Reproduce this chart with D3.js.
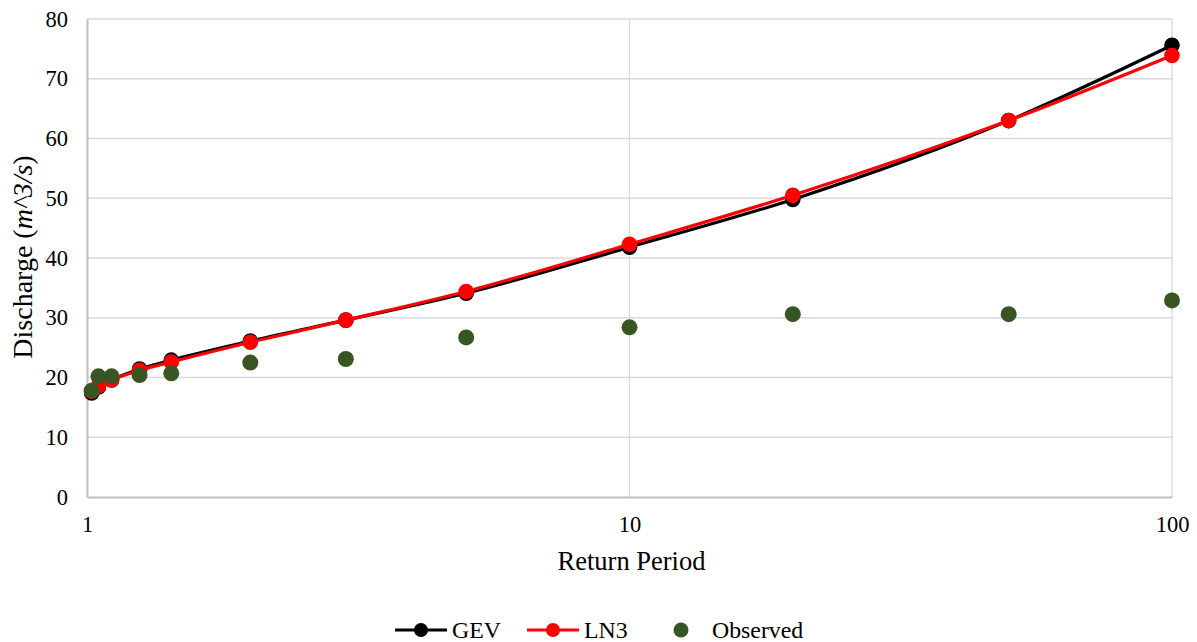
<!DOCTYPE html>
<html><head><meta charset="utf-8">
<script src="https://cdn.jsdelivr.net/npm/d3@7"></script>
<style>body{margin:0;background:#fff}</style>
</head><body><svg id="c" width="1197" height="642"></svg>
<script>
const returnPeriods = [1.02, 1.05, 1.11, 1.25, 1.43, 2, 3, 5, 10, 20, 50, 100];
const gev = [17.4, 18.4, 19.6, 21.4, 22.9, 26.1, 29.6, 34.1, 41.8, 49.8, 63.0, 75.6];
const ln3 = [17.7, 18.6, 19.6, 21.2, 22.6, 25.9, 29.6, 34.4, 42.3, 50.5, 63.0, 73.9];
const observed = [17.8, 20.2, 20.2, 20.4, 20.7, 22.5, 23.1, 26.7, 28.4, 30.6, 30.6, 32.9];
const xTicks = [1, 10, 100];
const yTicks = [0, 10, 20, 30, 40, 50, 60, 70, 80];

const FONT = "Liberation Serif, Times New Roman, DejaVu Serif, serif";
const svg = d3.select("#c").attr("font-family", FONT);
const L = 87, R = 1172, T = 19, B = 497;
const x = d3.scaleLog().domain([1, 100]).range([L, R]);
const y = d3.scaleLinear().domain([0, 80]).range([B, T]);

// gridlines
svg.append("g").selectAll("line").data(yTicks.slice(1)).join("line")
  .attr("x1", L).attr("x2", R).attr("y1", d => y(d)).attr("y2", d => y(d))
  .attr("stroke", "#d9d9d9").attr("stroke-width", 1.3);
svg.append("g").selectAll("line").data(xTicks.slice(1)).join("line")
  .attr("x1", d => x(d)).attr("x2", d => x(d)).attr("y1", T).attr("y2", B)
  .attr("stroke", "#d9d9d9").attr("stroke-width", 1.3);

// axes
const yAxis = svg.append("g").attr("transform", `translate(${L},0)`)
  .call(d3.axisLeft(y).tickValues(yTicks).tickSize(0).tickPadding(19).tickFormat(d3.format("d")));
const xAxis = svg.append("g").attr("transform", `translate(0,${B})`)
  .call(d3.axisBottom(x).tickValues(xTicks).tickSize(0).tickPadding(19).tickFormat(d3.format("d")));
[yAxis, xAxis].forEach(a => {
  a.attr("font-family", FONT).attr("font-size", 22.5);
  a.select(".domain").attr("stroke", "#bfbfbf").attr("stroke-width", 2);
  a.selectAll("text").attr("fill", "#000").style("font-family", FONT).style("font-size", "22.5px");
});

// titles
svg.append("text").attr("x", (L + R) / 2 + 2).attr("y", 570).attr("text-anchor", "middle")
  .style("font-family", FONT).style("font-size", "26.5px").text("Return Period");
const yt = svg.append("text").attr("transform", `translate(32,257) rotate(-90)`)
  .attr("text-anchor", "middle").style("font-family", FONT).style("font-size", "28px");
yt.append("tspan").text("Discharge (");
yt.append("tspan").attr("font-style", "italic").text("m^3/s");
yt.append("tspan").text(")");

// series
const series = [
  {name: "GEV", vals: gev, color: "#000000"},
  {name: "LN3", vals: ln3, color: "#ff0000"}
];
series.forEach(s => {
  const pts = returnPeriods.map((t, i) => [t, s.vals[i]]);
  svg.append("path").datum(pts)
    .attr("d", d3.line().x(d => x(d[0])).y(d => y(d[1])).curve(d3.curveMonotoneX))
    .attr("fill", "none").attr("stroke", s.color).attr("stroke-width", 3.2);
  svg.append("g").selectAll("circle").data(pts).join("circle")
    .attr("cx", d => x(d[0])).attr("cy", d => y(d[1])).attr("r", 7.8).attr("fill", s.color);
});
svg.append("g").selectAll("circle").data(returnPeriods.map((t, i) => [t, observed[i]])).join("circle")
  .attr("cx", d => x(d[0])).attr("cy", d => y(d[1])).attr("r", 8).attr("fill", "#375623");

// legend
const ly = 630;
const lg = svg.append("g");
series.forEach((s, i) => {
  const x0 = [395, 527][i];
  lg.append("line").attr("x1", x0).attr("x2", x0 + 52).attr("y1", ly).attr("y2", ly)
    .attr("stroke", s.color).attr("stroke-width", 3.2);
  lg.append("circle").attr("cx", x0 + 26).attr("cy", ly).attr("r", 7).attr("fill", s.color);
  lg.append("text").attr("x", x0 + 57).attr("y", ly + 8)
    .style("font-family", FONT).style("font-size", "23.8px").text(s.name);
});
lg.append("circle").attr("cx", 681).attr("cy", ly).attr("r", 7.5).attr("fill", "#375623");
lg.append("text").attr("x", 712).attr("y", ly + 8)
  .style("font-family", FONT).style("font-size", "23.8px").text("Observed");
</script></body></html>
